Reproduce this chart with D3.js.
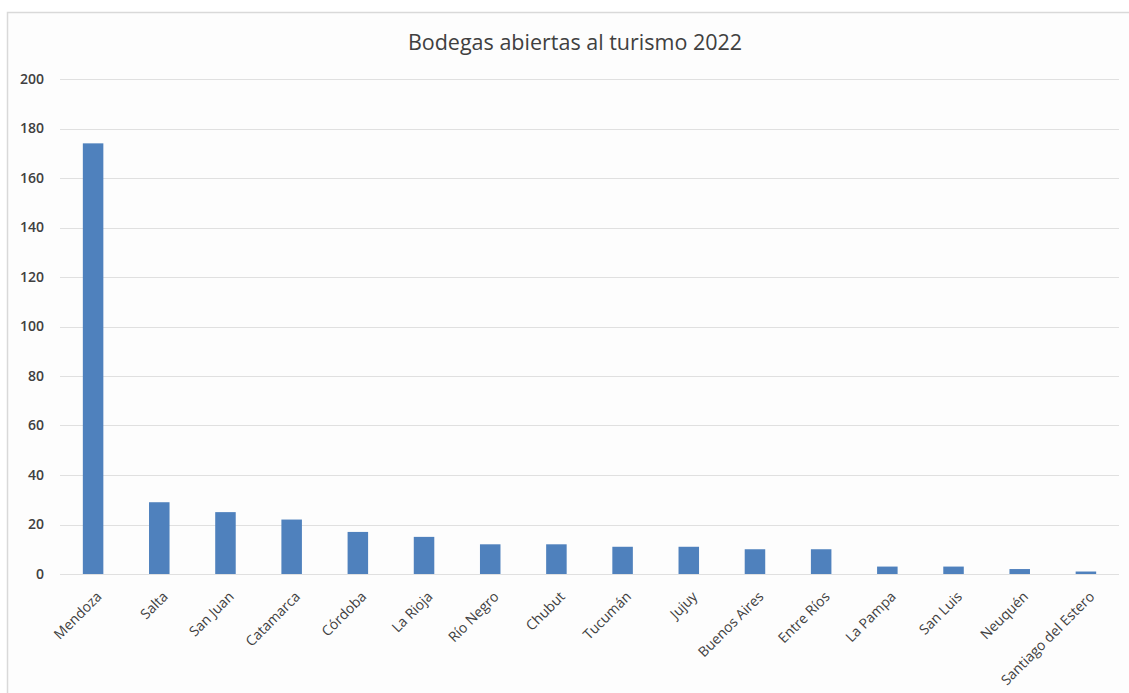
<!DOCTYPE html>
<html>
<head>
<meta charset="utf-8">
<script src="https://cdn.jsdelivr.net/npm/d3@7"></script>
<style>
  body { margin: 0; background: #ffffff; }
  svg { display: block; }
</style>
</head>
<body>
<div class="Chart"></div>
<script>
// data
var provincias = ["Mendoza", "Salta", "San Juan", "Catamarca", "Córdoba", "La Rioja",
                  "Río Negro", "Chubut", "Tucumán", "Jujuy", "Buenos Aires", "Entre Ríos",
                  "La Pampa", "San Luis", "Neuquén", "Santiago del Estero"];
var bodegas = [174, 29, 25, 22, 17, 15, 12, 12, 11, 11, 10, 10, 3, 3, 2, 1];
var yTicks = [0, 20, 40, 60, 80, 100, 120, 140, 160, 180, 200];
var titulo = "Bodegas abiertas al turismo 2022";

var width = 1129;
var height = 693;
var margin = {left: 60, right: 10, top: 79, bottom: 119};

var svg = d3.select(".Chart")
            .append("svg")
            .attr("width", width)
            .attr("height", height);

// chart frame
svg.append("rect")
   .attr("x", 7.5)
   .attr("y", 12.5)
   .attr("width", width)
   .attr("height", height)
   .attr("fill", "#fdfdfd")
   .attr("stroke", "#d9d9d9")
   .attr("stroke-width", 1.5);

var x = d3.scaleBand()
          .domain(provincias)
          .range([margin.left, width - margin.right])
          .paddingInner(0.69)
          .paddingOuter(0.345);

var y = d3.scaleLinear()
          .domain([0, 200])
          .range([height - margin.bottom, margin.top]);

// gridlines
svg.append("g")
   .selectAll("line")
   .data(yTicks)
   .enter().append("line")
   .attr("x1", margin.left)
   .attr("x2", width - margin.right)
   .attr("y1", function(d){ return Math.round(y(d)) + 0.5; })
   .attr("y2", function(d){ return Math.round(y(d)) + 0.5; })
   .attr("stroke", "#e0e0e0")
   .attr("stroke-width", 1);

// y labels
var yAxis = svg.append("g")
   .attr("transform", "translate(" + margin.left + ",0)")
   .call(d3.axisLeft(y).tickValues(yTicks).tickSize(0).tickPadding(16));
yAxis.select(".domain").remove();
yAxis.selectAll("text")
     .attr("font-family", "'Open Sans', sans-serif")
     .attr("font-size", 14)
     .attr("font-weight", 600)
     .attr("fill", "#404040");

// bars
svg.append("g")
   .selectAll("rect")
   .data(bodegas)
   .enter().append("rect")
   .attr("x", function(d, i){ return x(provincias[i]); })
   .attr("y", function(d){ return y(d); })
   .attr("width", x.bandwidth())
   .attr("height", function(d){ return y(0) - y(d); })
   .attr("fill", "#4f81bd");

// x labels, rotated
var xAxis = svg.append("g")
   .attr("transform", "translate(0," + y(0) + ")")
   .call(d3.axisBottom(x).tickSize(0).tickPadding(0));
xAxis.select(".domain").remove();
xAxis.selectAll("text")
     .attr("font-family", "'Open Sans', sans-serif")
     .attr("font-size", 14)
     .attr("fill", "#404040")
     .attr("text-anchor", "end")
     .attr("dy", "0.35em")
     .attr("transform", "translate(6,20) rotate(-45)");

// title
svg.append("text")
   .attr("x", 575)
   .attr("y", 50)
   .attr("text-anchor", "middle")
   .attr("font-family", "'Open Sans', sans-serif")
   .attr("font-size", 21.5)
   .attr("fill", "#404040")
   .text(titulo);
</script>
</body>
</html>
